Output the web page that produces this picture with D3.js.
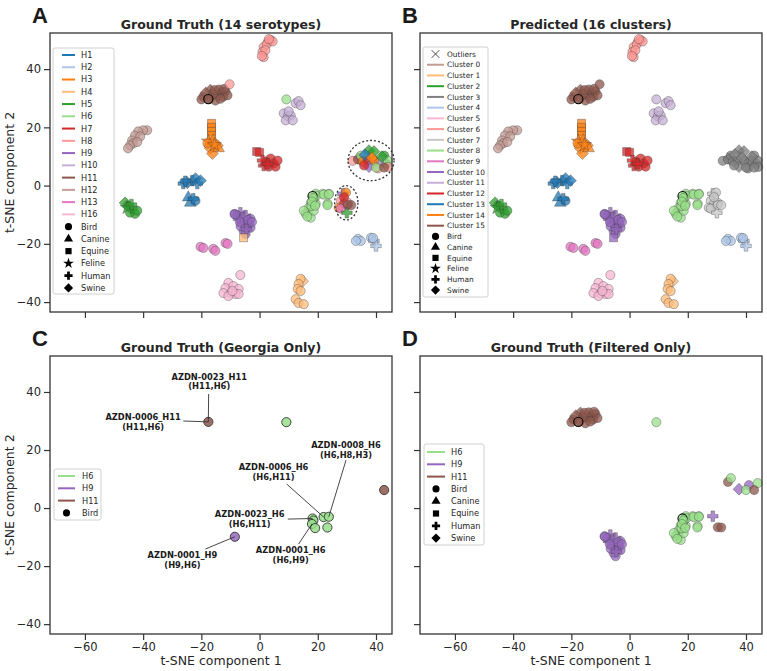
<!DOCTYPE html>
<html lang="en">
<head>
<meta charset="UTF-8" />
<title>t-SNE of HA serotypes</title>
<script src="https://d3js.org/d3.v7.min.js"></script>
<style>
  html, body { margin: 0; padding: 0; background: #fff; }
  svg { display: block; font-family: "DejaVu Sans", sans-serif; }
  .tick text { font-size: 11.5px; fill: #262626; font-family: "DejaVu Sans", sans-serif; }
  .tick line { stroke: #333; stroke-width: 1.2px; }
  .panel-title { font-size: 12.5px; font-weight: bold; fill: #262626; }
  .panel-letter { font-family: "Liberation Sans", Arial, sans-serif; font-size: 22px; font-weight: bold; fill: #1a1a1a; }
  .axis-title { font-size: 12.5px; fill: #262626; }
  .legend text { fill: #262626; }
  .annot { font-size: 8.3px; font-weight: bold; fill: #1a1a1a; }
</style>
</head>
<body>
<svg id="fig" width="767" height="671"></svg>
<script>
// ---- data: t-SNE coordinates, [x, y, serotype, host] ----
const h8Top = [[2.8,49.3,"H8","Bird"],[3.8,50,"H8","Bird"],[1.4,47.6,"H8","Bird"],[1.0,45.9,"H8","Bird"],[1.4,44.1,"H8","Bird"],
  [2.5,48.5,"H8","Bird"],[4.5,49.5,"H8","Bird"],[2,46.5,"H8","Bird"],[0.8,44.5,"H8","Bird"],[3.2,50.3,"H8","Bird"]];
const h11Group = [[-19.3,30.5,"H11","Bird"],[-20,29.6,"H11","Bird"],[-17,30,"H11","Bird"],[-16.9,32.8,"H11","Swine"],[-18.5,31.8,"H11","Swine"],
  [-14.5,31,"H11","Bird"],[-13,31.7,"H11","Bird"],[-11.7,32.4,"H11","Bird"],[-12.5,30.5,"H11","Bird"],[-15.2,29.2,"H11","Bird"],
  [-14,33,"H11","Bird"],[-16,31.5,"H11","Bird"],[-11,31,"H11","Bird"],[-13.5,29.8,"H11","Bird"],[-15.5,32.8,"H11","Bird"],
  [-12.2,33.2,"H11","Bird"],[-10.3,34.8,"H8","Bird"]];
const h12Group = [[-38.6,19,"H12","Bird"],[-40,19,"H12","Bird"],[-41.7,18.6,"H12","Bird"],[-42.8,17.2,"H12","Bird"],[-41,16.9,"H12","Bird"],
  [-43.8,15.5,"H12","Bird"],[-43.4,14.5,"H12","Bird"],[-44.5,13.8,"H12","Bird"],[-45.2,12.8,"H12","Bird"],[-42,15,"H12","Bird"]];
const h3Group = [[-16.5,21.4,"H3","Equine"],[-16.5,20,"H3","Equine"],[-16.5,18.6,"H3","Equine"],[-16.5,17.2,"H3","Equine"],
  [-17.6,15.2,"H3","Feline"],[-15.9,15.5,"H3","Canine"],[-14.5,13.8,"H3","Swine"],[-16.9,12.8,"H3","Swine"],[-16.2,11,"H3","Swine"],
  [-17.9,14.5,"H3","Bird"],[-14.1,12.8,"H3","Canine"],[-15.5,14,"H3","Feline"]];
const h7Group = [[-1,11.7,"H7","Equine"],[0,11.4,"H7","Equine"],[2.1,8.3,"H7","Bird"],[3.8,9.3,"H7","Bird"],[4.8,7.6,"H7","Bird"],
  [1.4,6.9,"H7","Human"],[3.1,6.5,"H7","Bird"],[5.5,6.5,"H7","Bird"],[6.2,8.6,"H7","Bird"],[1,8.6,"H7","Human"],[2.8,7.5,"H7","Human"]];
const mixEast = [[37.6,12,"H5","Swine"],[39.3,11.7,"H5","Swine"],[42.8,10.3,"H5","Bird"],[43.5,7.5,"H5","Bird"],[34.1,9.3,"H7","Human"],
  [32,8.5,"H8","Bird"],[33.8,9,"H11","Bird"],[34.8,10.3,"H6","Bird"],[35.5,8.3,"H3","Bird"],[37.2,8.6,"H7","Bird"],
  [37.6,6.5,"H9","Swine"],[41,7.9,"H9","Bird"],[41.7,8.6,"H10","Bird"],[40.7,5.9,"H8","Bird"],[44,8.6,"H6","Bird"],
  [39.3,8.6,"H3","Bird"],[35.9,6.9,"H7","Bird"],[40,6.2,"H6","Bird"],[36.2,10.6,"H1","Swine"],[38.6,9.6,"H3","Swine"],
  [42,9.9,"H5","Swine"],[44.2,6.4,"H8","Bird"]];
const h1Group = [[-26.2,0.7,"H1","Human"],[-24.8,1,"H1","Swine"],[-23.1,1.7,"H1","Human"],[-22,2.4,"H1","Swine"],[-21.4,0.7,"H1","Human"],
  [-20.3,1.7,"H1","Swine"],[-25.5,1.5,"H1","Human"],[-24.5,-4.1,"H1","Canine"],[-23.8,-5.9,"H1","Canine"],[-22,-5.2,"H1","Bird"],
  [-22.8,-4.5,"H1","Human"]];
const h5Group = [[-46.2,-5.9,"H5","Swine"],[-45.2,-6.9,"H5","Bird"],[-43.8,-7.9,"H5","Human"],[-42.8,-9.7,"H5","Bird"],
  [-44.5,-9.3,"H5","Bird"],[-42,-8.6,"H5","Bird"],[-45.5,-7.6,"H5","Feline"],[-44,-6.5,"H5","Human"]];
const h9Group = [[-8.6,-9.7,"H9","Bird"],[-6.6,-9.3,"H9","Human"],[-4.8,-10.3,"H9","Human"],[-3.1,-11.4,"H9","Bird"],[-5.9,-12.8,"H9","Human"],
  [-4.1,-13.8,"H9","Bird"],[-3.1,-14.5,"H9","Bird"],[-5.5,-15.5,"H9","Bird"],[-4.8,-16.6,"H9","Bird"],[-7.2,-11.4,"H9","Human"],
  [-3.8,-12.8,"H9","Human"],[-7.6,-10.3,"H9","Bird"],[-6,-11,"H9","Human"],[-4,-11.8,"H9","Bird"],[-6.5,-14,"H9","Bird"],
  [-4.5,-15,"H9","Human"],[-2.6,-12.5,"H9","Bird"],[-6.8,-12.5,"H9","Bird"],[-5.5,-17.9,"H4","Equine"]];
const h13Group = [[-20.3,-21,"H13","Bird"],[-19.3,-21.4,"H13","Bird"],[-15.9,-21.7,"H13","Bird"],[-15.2,-22.4,"H13","Bird"],
  [-11.7,-19.7,"H13","Bird"],[-11,-20,"H13","Bird"]];
const h16Group = [[-6.6,-30.7,"H16","Bird"],[-10.7,-33.4,"H16","Bird"],[-11.7,-35.2,"H16","Bird"],[-9,-34.5,"H16","Bird"],[-7.2,-35.5,"H16","Bird"],
  [-10,-36.9,"H16","Bird"],[-12.4,-36.9,"H16","Bird"],[-8.3,-37.2,"H16","Bird"],[-7.2,-37.2,"H16","Bird"],[-10.7,-37.9,"H16","Bird"],
  [-9.3,-36.2,"H16","Bird"]];
const h6Group = [[19.3,-2.8,"H6","Bird"],[21.7,-2.8,"H6","Bird"],[23.8,-2.8,"H6","Bird"],[23.4,-6.2,"H6","Bird"],[17.6,-5.9,"H6","Bird"],
  [16.9,-7.6,"H6","Bird"],[16.6,-9.3,"H6","Bird"],[15.9,-9.7,"H6","Bird"],[17.6,-11,"H6","Bird"],[18.6,-8.6,"H6","Bird"],
  [19.3,-6.2,"H6","Bird"],[15.2,-8.6,"H6","Bird"],[18.6,-4.5,"H6","Bird"],[19.5,-3.5,"H6","Bird"],[17.8,-7,"H6","Bird"],
  [16.4,-10.6,"H6","Bird"]];
const mixWest = [[28.6,-2.8,"H9","Human"],[29.7,-2.4,"H3","Bird"],[27.9,-5.2,"H8","Bird"],[29,-6.2,"H7","Bird"],[30.3,-5.9,"H8","Bird"],
  [27.2,-7.6,"H3","Bird"],[27.9,-7.9,"H13","Bird"],[30,-9.3,"H5","Human"],[30.3,-6.6,"H11","Bird"],[31.5,-6.7,"H11","Bird"],[29,-4,"H7","Bird"]];
const h2Group = [[33.8,-18.3,"H2","Bird"],[34.8,-19,"H2","Bird"],[33.1,-19,"H2","Bird"],[38.3,-17.9,"H2","Bird"],[39.3,-19,"H2","Human"],
  [40,-20.7,"H2","Human"],[39,-18,"H2","Bird"]];
const h4Group = [[14.8,-32.8,"H4","Swine"],[14.1,-32,"H4","Bird"],[13.4,-33.8,"H4","Bird"],[13.1,-35.5,"H4","Bird"],[14.1,-36.2,"H4","Bird"],
  [12.4,-39,"H4","Bird"],[13.4,-40.3,"H4","Bird"],[15.2,-40.7,"H4","Bird"]];
const h10Group = [[12.4,28.3,"H10","Bird"],[13.4,29,"H10","Bird"],[14.1,27.6,"H10","Bird"],[8.3,24.8,"H10","Bird"],[9.7,23.8,"H10","Bird"],
  [10.7,24.1,"H10","Bird"],[9,22.4,"H10","Bird"],[11.4,22.4,"H10","Bird"],[10,25.5,"H10","Bird"]];

// predicted cluster id for each group
const clusterOf = [[0,h12Group],[1,h4Group],[2,h5Group],[3,mixEast],[4,h2Group],[5,h16Group],[6,h8Top],[7,mixWest],
  [8,h6Group],[9,h13Group],[10,h9Group],[11,h10Group],[12,h7Group],[13,h1Group],[14,h3Group],[15,h11Group]];

// Georgia samples: [x, y, serotype, cluster]
const georgia = [[-17.6,29.7,"H11",15],[9.2,29.6,"H6",11],[42.8,6.2,"H11",3],[-8.5,-9.9,"H9",10],[18.2,-3.6,"H6",8],
  [18.5,-4.3,"H6",8],[18,-5.5,"H6",8],[19.1,-6.9,"H6",8],[22,-3.1,"H6",8],[23.8,-3,"H6",8],[23.3,-6.7,"H6",8]];

// annotation labels in panel C: name, sub, label x/y, line start x/y, target x/y
const annotations = [
  ["AZDN-0023_H11","(H11,H6)",-17.3,45.2,-17.5,39.3,-17.6,29.7],
  ["AZDN-0006_H11","(H11,H6)",-40,31.4,-26.2,30,-17.6,29.7],
  ["AZDN-0008_H6","(H6,H8,H3)",29.7,21.7,29.7,16.5,23.8,-3],
  ["AZDN-0006_H6","(H6,H11)",4.8,14.1,9.3,8.3,22,-3.1],
  ["AZDN-0023_H6","(H6,H11)",-3.4,-2.1,9.7,-3.8,18.2,-3.6],
  ["AZDN-0001_H6","(H6,H9)",10.7,-14.5,13.4,-12.4,18,-5.5],
  ["AZDN-0001_H9","(H9,H6)",-26.5,-16.2,-18.6,-14.1,-8.5,-9.9]
];

const serotypes = ["H1","H2","H3","H4","H5","H6","H7","H8","H9","H10","H11","H12","H13","H16"];
const seroColors = ["#1f77b4","#aec7e8","#ff7f0e","#ffbb78","#2ca02c","#98df8a","#d62728","#ff9896","#9467bd","#c5b0d5","#8c564b","#c49c94","#e377c2","#f7b6d2"];
const clusterColors = ["#c49c94","#ffbb78","#2ca02c","#7f7f7f","#aec7e8","#f7b6d2","#ff9896","#c7c7c7","#98df8a","#e377c2","#9467bd","#c5b0d5","#d62728","#1f77b4","#ff7f0e","#8c564b"];
const hosts = ["Bird","Canine","Equine","Feline","Human","Swine"];
const xTicks = [-60,-40,-20,0,20,40];
const yTicks = [-40,-20,0,20,40];

const seroColor = d3.scaleOrdinal(serotypes, seroColors);
const shapes = {Bird: d3.symbolCircle, Canine: d3.symbolTriangle, Equine: d3.symbolSquare,
  Feline: d3.symbolStar, Human: d3.symbolCross, Swine: d3.symbolDiamond2};
const sizes = {Bird: 66, Canine: 60, Equine: 64, Feline: 60, Human: 62, Swine: 90};

const allPoints = [];
clusterOf.forEach(([c, pts]) => pts.forEach(p => allPoints.push({x: p[0], y: p[1], sero: p[2], host: p[3], cluster: c})));

const svg = d3.select("#fig");
svg.append("rect").attr("width", 767).attr("height", 671).attr("fill", "#fff");

function drawPanel(p) {
  const x = d3.scaleLinear().domain([-72, 45.5]).range([p.left, p.right]);
  const y = d3.scaleLinear().domain([-43.4, 52.4]).range([p.bottom, p.top]);
  const g = svg.append("g");

  const fmt = d3.format("d");
  const xa = g.append("g").attr("transform", `translate(0,${p.bottom})`)
    .call(d3.axisBottom(x).tickValues(xTicks).tickSize(6).tickPadding(3).tickFormat(p.xLabels ? fmt : ""));
  const ya = g.append("g").attr("transform", `translate(${p.left},0)`)
    .call(d3.axisLeft(y).tickValues(yTicks).tickSize(6).tickPadding(3).tickFormat(p.yLabels ? fmt : ""));
  [xa, ya].forEach(a => { a.select(".domain").remove(); a.attr("font-size", null).attr("font-family", null); });

  const plot = g.append("g");
  const sym = (host) => d3.symbol(shapes[host], sizes[host])();

  if (p.points) {
    plot.selectAll("path.pt").data(p.points).join("path")
      .attr("class", "pt")
      .attr("transform", d => `translate(${x(d.x)},${y(d.y)})`)
      .attr("d", d => sym(d.host))
      .attr("fill", p.color)
      .attr("fill-opacity", 0.75)
      .attr("stroke", "#3a3a3a").attr("stroke-opacity", 0.6).attr("stroke-width", 0.6);
  }
  if (p.georgia) {
    // Georgia isolates; in the full panels only a couple carry a dark outline
    plot.selectAll("path.ga").data(p.georgia).join("path")
      .attr("class", "ga")
      .attr("transform", d => `translate(${x(d[0])},${y(d[1])})`)
      .attr("d", sym("Bird"))
      .attr("fill", p.gColor)
      .attr("fill-opacity", p.annot ? 0.85 : 0.75)
      .attr("stroke", (d, i) => p.annot ? "#333" : (i === 0 || i === 4 ? "#000" : "#3a3a3a"))
      .attr("stroke-opacity", (d, i) => p.annot || i === 0 || i === 4 ? 1 : 0.6)
      .attr("stroke-width", (d, i) => p.annot ? 0.9 : (i === 0 || i === 4 ? 1.1 : 0.6));
  }
  if (p.ellipses) {
    p.ellipses.forEach(e => {
      plot.append("ellipse")
        .attr("cx", x(e[0])).attr("cy", y(e[1]))
        .attr("rx", x(e[0] + e[2]) - x(e[0])).attr("ry", y(e[1]) - y(e[1] + e[3]))
        .attr("fill", "none").attr("stroke", "#333").attr("stroke-width", 1.3)
        .attr("stroke-dasharray", "2,2");
    });
  }
  if (p.annot) {
    annotations.forEach(a => {
      plot.append("line")
        .attr("x1", x(a[4])).attr("y1", y(a[5])).attr("x2", x(a[6])).attr("y2", y(a[7]))
        .attr("stroke", "#333").attr("stroke-width", 0.9);
      const t = plot.append("text").attr("class", "annot").attr("text-anchor", "middle")
        .attr("x", x(a[2])).attr("y", y(a[3]) + 3);
      t.append("tspan").attr("x", x(a[2])).text(a[0]);
      t.append("tspan").attr("x", x(a[2])).attr("dy", 9.6).text(a[1]);
    });
  }

  g.append("rect")
    .attr("x", p.left).attr("y", p.top)
    .attr("width", p.right - p.left).attr("height", p.bottom - p.top)
    .attr("fill", "none").attr("stroke", "#333").attr("stroke-width", 1.3);

  g.append("text").attr("class", "panel-title").attr("text-anchor", "middle")
    .attr("x", (p.left + p.right) / 2).attr("y", p.top - 4).text(p.title);
  g.append("text").attr("class", "panel-letter").attr("x", p.left - 18).attr("y", p.top - 10).text(p.letter);

  if (p.yLabels) {
    g.append("text").attr("class", "axis-title").attr("text-anchor", "middle")
      .attr("transform", `translate(14,${(p.top + p.bottom) / 2}) rotate(-90)`).text("t-SNE component 2");
  }
  if (p.xLabels) {
    g.append("text").attr("class", "axis-title").attr("text-anchor", "middle")
      .attr("x", (p.left + p.right) / 2).attr("y", p.bottom + 31).text("t-SNE component 1");
  }

  // legend
  const L = p.legend;
  const lg = g.append("g").attr("class", "legend");
  lg.append("rect").attr("x", L.x).attr("y", L.y).attr("width", L.w).attr("height", L.h).attr("rx", 2)
    .attr("fill", "#fff").attr("fill-opacity", 0.85).attr("stroke", "#d0d0d0").attr("stroke-width", 1);
  L.items.forEach((it, i) => {
    const cy = L.y0 + i * L.dy;
    const mx = (L.lx0 + L.lx1) / 2;
    if (it.kind === "line") {
      lg.append("line").attr("x1", L.lx0).attr("x2", L.lx1).attr("y1", cy).attr("y2", cy)
        .attr("stroke", it.color).attr("stroke-width", 2);
    } else if (it.kind === "x") {
      lg.append("path").attr("transform", `translate(${mx},${cy})`)
        .attr("d", d3.symbol(d3.symbolTimes, 40)()).attr("fill", "none").attr("stroke", "#333").attr("stroke-width", 0.9);
    } else {
      lg.append("path").attr("transform", `translate(${mx},${cy})`)
        .attr("d", d3.symbol(shapes[it.label], sizes[it.label] * 0.6)()).attr("fill", "#000");
    }
    lg.append("text").attr("x", L.tx).attr("y", cy + L.fs * 0.36).attr("font-size", L.fs).text(it.label);
  });
}

const hostItems = (list) => list.map(h => ({kind: "marker", label: h}));
const h69 = allPoints.filter(d => ["H6","H9","H11"].includes(d.sero));

drawPanel({
  letter: "A", title: "Ground Truth (14 serotypes)", left: 50, top: 33, right: 392, bottom: 312,
  xLabels: false, yLabels: true, points: allPoints, color: d => seroColor(d.sero),
  georgia: georgia, gColor: d => seroColor(d[2]),
  ellipses: [[38.3, 8.6, 7.9, 6.9], [29.8, -5.9, 4.0, 5.9]],
  legend: {x: 53, y: 48, w: 61, h: 246, y0: 55, dy: 12.26, lx0: 62, lx1: 75, tx: 81, fs: 8.2,
    items: serotypes.map(s => ({kind: "line", color: seroColor(s), label: s})).concat(hostItems(hosts))}
});
drawPanel({
  letter: "B", title: "Predicted (16 clusters)", left: 420, top: 33, right: 762, bottom: 312,
  xLabels: false, yLabels: false, points: allPoints, color: d => clusterColors[d.cluster],
  georgia: georgia, gColor: d => clusterColors[d[3]],
  legend: {x: 423, y: 47, w: 65, h: 250, y0: 54, dy: 10.73, lx0: 427, lx1: 444, tx: 447, fs: 7.4,
    items: [{kind: "x", label: "Outliers"}]
      .concat(clusterColors.map((c, i) => ({kind: "line", color: c, label: "Cluster " + i})))
      .concat(hostItems(hosts))}
});
drawPanel({
  letter: "C", title: "Ground Truth (Georgia Only)", left: 50, top: 356, right: 392, bottom: 634,
  xLabels: true, yLabels: true, georgia: georgia, gColor: d => seroColor(d[2]), annot: true,
  legend: {x: 54, y: 469, w: 47, h: 51, y0: 476, dy: 12.3, lx0: 58, lx1: 75, tx: 82, fs: 8.2,
    items: [{kind: "line", color: seroColor("H6"), label: "H6"}, {kind: "line", color: seroColor("H9"), label: "H9"},
      {kind: "line", color: seroColor("H11"), label: "H11"}, {kind: "marker", label: "Bird"}]}
});
drawPanel({
  letter: "D", title: "Ground Truth (Filtered Only)", left: 420, top: 356, right: 762, bottom: 634,
  xLabels: true, yLabels: false, points: h69, color: d => seroColor(d.sero),
  georgia: georgia, gColor: d => seroColor(d[2]),
  legend: {x: 424, y: 444, w: 60, h: 101, y0: 452, dy: 12.3, lx0: 427, lx1: 445, tx: 451, fs: 8.2,
    items: [{kind: "line", color: seroColor("H6"), label: "H6"}, {kind: "line", color: seroColor("H9"), label: "H9"},
      {kind: "line", color: seroColor("H11"), label: "H11"}].concat(hostItems(["Bird","Canine","Equine","Human","Swine"]))}
});
</script>
</body>
</html>
